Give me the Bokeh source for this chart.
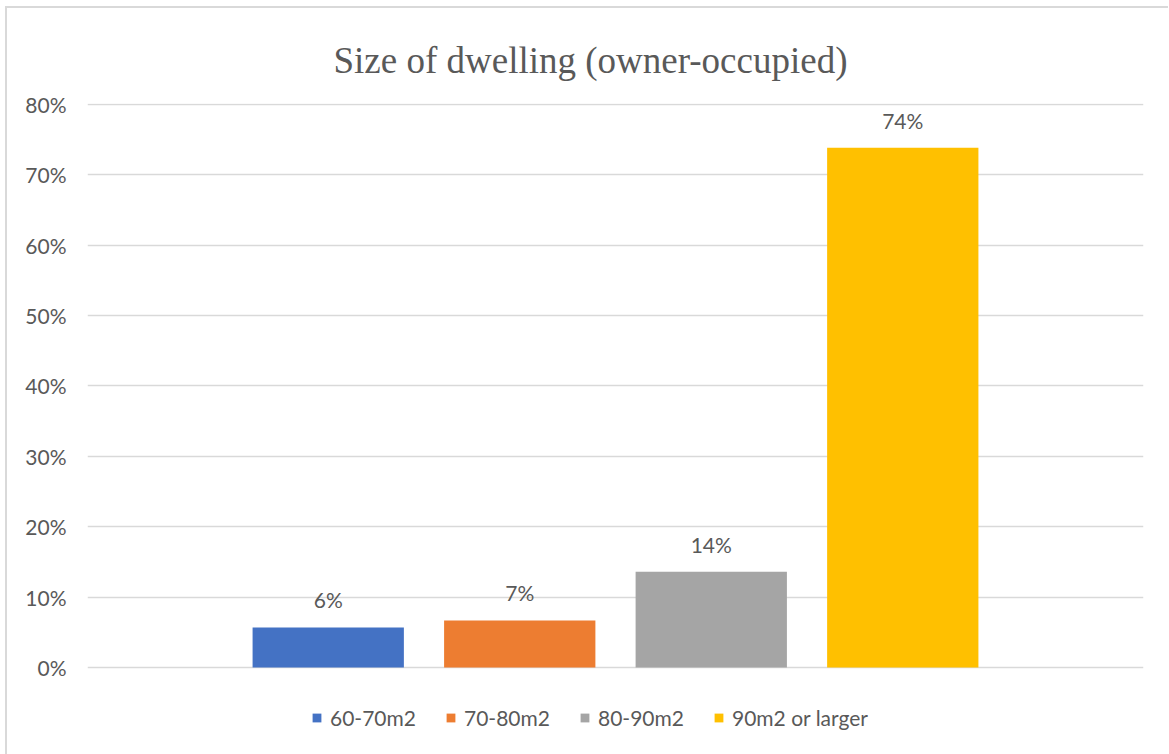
from bokeh.plotting import figure
from bokeh.models import Range1d, NumeralTickFormatter, Legend, LegendItem, FixedTicker
from bokeh.core.properties import value
from bokeh.embed import file_html
from bokeh.resources import INLINE

title_text = "Size of dwelling (owner-occupied)"
series = ["60-70m2", "70-80m2", "80-90m2", "90m2 or larger"]
shares = [0.057, 0.067, 0.136, 0.738]
colors = ["#4472C4", "#ED7D31", "#A5A5A5", "#FFC000"]
y_ticks = [0.0, 0.1, 0.2, 0.3, 0.4, 0.5, 0.6, 0.7, 0.8]

labels = [f"{round(v * 100)}%" for v in shares]
xs = list(range(len(series)))

p = figure(width=1163, height=748, output_backend="svg", toolbar_location=None,
           x_range=Range1d(-1.257, 4.257), y_range=Range1d(-0.11206, 0.801),
           min_border_left=80, min_border_right=27, min_border_top=95,
           min_border_bottom=10)

p.title.text = title_text
p.title.text_font = "Liberation Serif"
p.title.text_font_size = "37px"
p.title.text_font_style = "normal"
p.title.text_color = "#595959"
p.title.align = "left"
p.title.vertical_align = "top"
p.title.offset = 246
p.title.standoff = 41

p.outline_line_color = None
p.xaxis.visible = False
p.xgrid.visible = False

p.yaxis.ticker = FixedTicker(ticks=y_ticks)
p.yaxis.formatter = NumeralTickFormatter(format="0%")
p.yaxis.axis_line_color = None
p.yaxis.major_tick_line_color = None
p.yaxis.minor_tick_line_color = None
p.yaxis.major_label_text_font = "Lato"
p.yaxis.major_label_text_font_size = "21px"
p.yaxis.major_label_text_color = "#595959"
p.yaxis.major_label_standoff = 15
p.ygrid.grid_line_color = "#d9d9d9"
p.ygrid.grid_line_width = 1.5

items = []
for i, (name, v, c) in enumerate(zip(series, shares, colors)):
    r = p.vbar(x=[xs[i]], top=[v], bottom=0, width=0.79, fill_color=c, line_color=None)
    items.append(LegendItem(label=name, renderers=[r]))

p.text(x=xs, y=shares, text=labels, text_align="center", text_baseline="bottom",
       y_offset=-15, text_font=value("Lato"), text_font_size="21px", text_color="#595959")

legend = Legend(items=items, orientation="horizontal", location=(224, 16),
                label_text_font="Lato", label_text_font_size="21px",
                label_text_color="#595959", glyph_width=11, glyph_height=11,
                spacing=29, label_standoff=8, border_line_color=None,
                background_fill_alpha=0, margin=0, padding=0)
p.add_layout(legend, "center")

p.styles = {"border-left": "2px solid #d9d9d9", "border-top": "2px solid #d9d9d9",
            "margin-left": "5px", "margin-top": "6px"}

open("out.html", "w").write(file_html(p, INLINE))
